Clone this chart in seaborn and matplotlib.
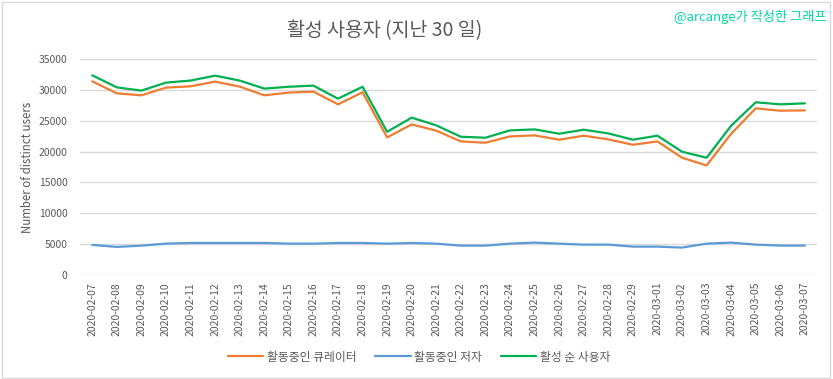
import pandas as pd
import numpy as np
import matplotlib.pyplot as plt
import seaborn as sns
from matplotlib.patches import Rectangle

# ==========================================
# Data
# ==========================================
dates = [f"2020-02-{d:02d}" for d in range(7, 30)] + [f"2020-03-{d:02d}" for d in range(1, 8)]

curators = [31380, 29430, 29110, 30360, 30570, 31330, 30520, 29110, 29550, 29710,
            27650, 29600, 22290, 24400, 23380, 21640, 21430, 22460, 22620, 21920,
            22570, 21970, 21100, 21640, 19000, 17750, 22890, 27000, 26620, 26670]
authors = [4870, 4550, 4760, 5080, 5190, 5190, 5190, 5190, 5080, 5080,
           5190, 5190, 5080, 5190, 5080, 4760, 4760, 5080, 5250, 5080,
           4920, 4920, 4600, 4600, 4440, 5080, 5250, 4920, 4760, 4760]
total = [32350, 30400, 29870, 31170, 31500, 32300, 31500, 30200, 30500, 30680,
         28570, 30500, 23200, 25500, 24240, 22400, 22240, 23430, 23590, 22890,
         23540, 22940, 21920, 22570, 19970, 19000, 24190, 27980, 27650, 27810]

series_names = ['활동중인 큐레이터', '활동중인 저자', '활성 순 사용자']
colors = ['#ED7D31', '#5B9BD5', '#00B050']

df = pd.DataFrame({'date': dates * 3,
                   'users': curators + authors + total,
                   'series': np.repeat(series_names, len(dates))})

# ==========================================
# Plot
# ==========================================
sns.set_style('white')
plt.rcParams['font.family'] = ['Noto Sans CJK KR', 'DejaVu Sans']

fig = plt.figure(figsize=(8.33, 3.79), dpi=100)
ax = fig.add_axes([0.096, 0.2744, 0.885, 0.570])

sns.lineplot(data=df, x='date', y='users', hue='series', hue_order=series_names,
             palette=colors, linewidth=1.6, sort=False, ax=ax)

ax.set_ylim(0, 35000)
ax.set_yticks(range(0, 35001, 5000))
ax.set_xlim(-0.5, len(dates) - 0.5)
ax.grid(axis='y', color='#d9d9d9', linewidth=1)
ax.set_axisbelow(True)
for s in ax.spines.values():
    s.set_visible(False)
ax.tick_params(axis='both', length=0, labelsize=7.5, colors='#595959')
ax.tick_params(axis='y', pad=9)
ax.tick_params(axis='x', pad=5)
plt.setp(ax.get_xticklabels(), rotation=90)
ax.set_xlabel('')
ax.set_ylabel('Number of distinct users', fontsize=8.3, color='#595959', labelpad=3)

ax.legend(loc='center', bbox_to_anchor=(0.46, -0.38), ncol=3, frameon=False,
          fontsize=8.5, handlelength=3.0, handletextpad=0.3, columnspacing=1.6,
          labelcolor='#595959')

fig.text(0.462, 0.92, '활성 사용자 (지난 30 일)', ha='center', va='center',
         fontsize=14, color='#595959')
fig.text(0.992, 0.955, '@arcange가 작성한 그래프', ha='right', va='center',
         fontsize=9.5, color='#00D9A0')

fig.patches.append(Rectangle((0.002, 0.003), 0.994, 0.992, transform=fig.transFigure,
                             fill=False, edgecolor='#d9d9d9', linewidth=1))

fig.savefig('out.png', dpi=100)
